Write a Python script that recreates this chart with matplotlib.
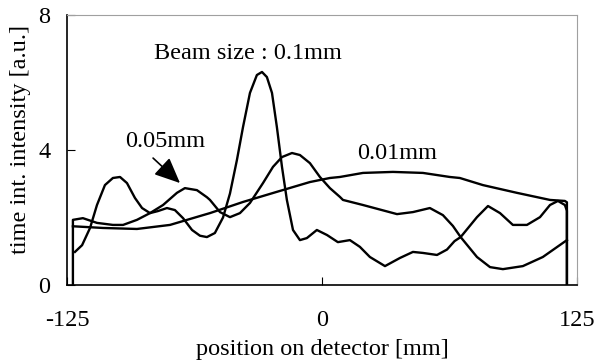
import matplotlib
matplotlib.use('Agg')
from matplotlib import pyplot as plt

# values (x in mm, y in a.u.)
x_001 = [-122.1, -107.4, -90.7, -74.5, -58.3, -54.9, -38.7, -22.1, -5.9, 3.9,
         8.8, 20.1, 34.8, 49.5, 62.7, 67.6, 78.9, 95.6, 111.8, 119.1, 120.1, 120.1]
y_001 = [1.74, 1.69, 1.66, 1.78, 2.07, 2.13, 2.46, 2.76, 3.05, 3.17,
         3.20, 3.32, 3.35, 3.32, 3.20, 3.17, 2.96, 2.73, 2.52, 2.49, 2.45, 0.0]

x_005 = [-122.1, -122.1, -117.2, -110.3, -102.5, -97.5, -90.7, -84.3, -77.9,
         -71.1, -67.2, -61.3, -56.4, -54.9, -50.0, -45.1, -40.2, -35.3, -28.9,
         -24.0, -19.6, -14.7, -10.8, -5.9, -1.0, 3.9, 8.8, 10.3, 20.1, 36.8,
         44.6, 52.9, 59.3, 64.2, 68.0, 76.0, 82.4, 88.7, 98.5, 108.3, 120.1]
y_005 = [0.0, 1.93, 1.98, 1.84, 1.78, 1.78, 1.93, 2.13, 2.37,
         2.73, 2.87, 2.81, 2.60, 2.52, 2.16, 2.01, 2.13, 2.43, 3.02,
         3.50, 3.79, 3.91, 3.85, 3.61, 3.20, 2.87, 2.61, 2.52, 2.37, 2.10,
         2.16, 2.28, 2.07, 1.75, 1.42, 0.83, 0.53, 0.47, 0.56, 0.83, 1.33]

x_01 = [-121.1, -117.6, -113.7, -110.3, -106.4, -102.5, -99.0, -95.6, -91.7,
        -88.2, -84.3, -80.4, -76.0, -72.1, -68.1, -63.7, -59.8, -56.4, -52.5,
        -48.5, -45.1, -41.7, -38.7, -35.3, -31.9, -29.4, -27.0, -24.5, -22.1,
        -19.6, -17.2, -14.2, -10.8, -7.4, -2.5, 2.5, 7.8, 13.7, 18.6, 23.5,
        30.9, 38.2, 44.6, 49.5, 56.4, 61.3, 65.0, 68.0, 76.0, 81.4, 87.3,
        93.6, 100.5, 106.9, 111.8, 115.7, 119.1, 120.1, 120.1]
y_01 = [0.98, 1.18, 1.69, 2.37, 2.96, 3.17, 3.20, 3.02, 2.58,
        2.28, 2.13, 2.19, 2.28, 2.22, 1.98, 1.63, 1.46, 1.42, 1.54,
        2.00, 2.71, 3.70, 4.68, 5.69, 6.22, 6.31, 6.16, 5.69, 4.68,
        3.50, 2.52, 1.63, 1.33, 1.39, 1.63, 1.48, 1.27, 1.33, 1.13, 0.83,
        0.56, 0.80, 0.98, 0.95, 0.89, 1.05, 1.30, 1.42, 2.01, 2.34, 2.13,
        1.78, 1.78, 2.01, 2.37, 2.49, 2.37, 2.20, 0.0]

x_ticks = [-125, 0, 125]
y_ticks = [0, 4, 8]


def main():
    plt.rcParams.update({'font.family': 'Liberation Serif', 'font.size': 17.5,
                         'axes.unicode_minus': False})

    fig = plt.figure(figsize=(5.95, 3.64), dpi=100)
    ax = fig.add_axes([0.1126, 0.217, 0.857, 0.742])

    for xs, ys in [(x_001, y_001), (x_005, y_005), (x_01, y_01)]:
        ax.plot(xs, ys, color='black', lw=1.7, solid_joinstyle='round')

    ax.set_xlim(-125, 125)
    ax.set_ylim(0, 8)
    ax.set_xticks(x_ticks)
    ax.set_yticks(y_ticks)
    ax.tick_params(direction='in', length=6, width=0.8)
    ax.tick_params(axis='x', pad=18)
    ax.tick_params(axis='y', pad=12)

    ax.spines['top'].set_color('#a0a0a0')
    ax.spines['right'].set_color('#a0a0a0')
    for s in ['left', 'bottom']:
        ax.spines[s].set_linewidth(1.2)

    ax.set_xlabel('position on detector [mm]')
    ax.xaxis.set_label_coords(0.5, -0.2)
    ax.set_ylabel('time int. intensity [a.u.]')
    ax.yaxis.set_label_coords(-0.07, 0.537)

    ax.text(-36.3, 6.87, 'Beam size : 0.1mm', ha='center', va='center')
    ax.text(-77, 4.25, '0.05mm', ha='center', va='center')
    ax.text(36.8, 3.91, '0.01mm', ha='center', va='center')
    ax.annotate('', xy=(-69.6, 3.02), xytext=(-82.8, 3.76),
                arrowprops=dict(arrowstyle='-|>,head_length=0.9,head_width=0.4',
                                color='black', lw=1.2, shrinkA=0, shrinkB=0))

    fig.savefig('out.png', dpi=100)


if __name__ == '__main__':
    main()
